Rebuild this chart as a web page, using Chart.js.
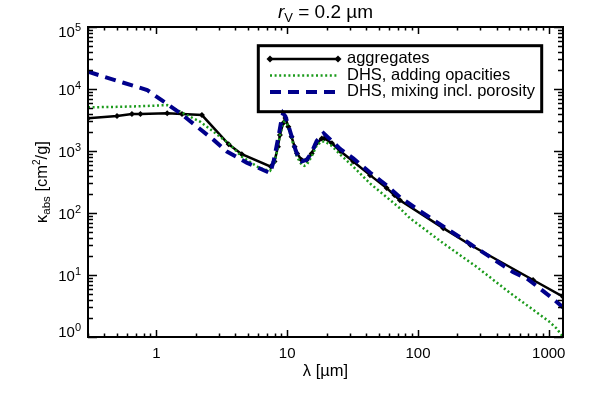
<!DOCTYPE html>
<html><head><meta charset="utf-8">
<script src="https://cdn.jsdelivr.net/npm/chart.js@4/dist/chart.umd.min.js"></script>
<style>html,body{margin:0;padding:0;background:#fff}#wrap{width:591px;height:393px}</style>
</head><body><div id="wrap"><canvas id="c" width="591" height="393"></canvas></div>
<script>
// ---- data ----
const seriesLabels = ['aggregates', 'DHS, adding opacities', 'DHS, mixing incl. porosity'];

const aggLambda = [0.3, 0.5, 0.65, 0.755, 1.21, 1.57, 2.23, 3.57, 4.5, 7.5, 8.0, 8.5, 8.8, 9.3, 9.7, 10.2, 10.8, 11.4, 11.9, 12.9, 14.1, 15.4, 16.8, 18.4, 19.3, 22, 25.4, 32, 43, 57.6, 66, 72.8, 156, 252, 759, 1285];
const aggKappa  = [3370, 3670, 3950, 3950, 4060, 3950, 3800, 1280, 890, 560, 680, 1170, 1820, 2800, 3400, 2460, 1700, 1170, 915, 716, 716, 915, 1330, 1590, 1600, 1330, 1000, 675, 408, 252, 195, 160, 57, 30.5, 8.3, 4.47];

const addLambda = [0.3, 0.5, 0.8, 1.21, 1.52, 2.17, 3.57, 4.5, 6.2, 7.4, 8.0, 8.5, 8.8, 9.3, 9.7, 10.2, 10.8, 11.4, 11.9, 12.9, 13.5, 14.1, 15.4, 16.8, 18.4, 19.5, 22, 25.4, 32, 43, 57.6, 72.8, 87, 156, 280, 502, 1000, 1145, 1285];
const addKappa  = [5070, 5150, 5300, 5500, 4300, 2950, 1330, 810, 525, 480, 650, 1150, 1800, 2750, 3300, 2400, 1600, 1050, 800, 600, 575, 600, 820, 1230, 1430, 1420, 1200, 880, 560, 300, 180, 119, 82, 32.5, 13.6, 5.2, 1.8, 1.38, 1.0];

const mixLambda = [0.3, 0.56, 0.85, 1.14, 1.52, 2.05, 2.74, 3.46, 4.9, 7.4, 7.9, 8.3, 8.7, 9.0, 9.3, 9.7, 10.2, 10.8, 11.4, 12.0, 12.9, 14.1, 15.4, 16.8, 18.4, 19.0, 22, 25.4, 32, 43, 57.6, 72.8, 103, 208, 532, 696, 1070, 1285];
const mixKappa  = [19000, 12600, 9640, 6240, 4070, 2460, 1510, 980, 650, 440, 700, 1200, 2000, 3000, 4050, 3600, 2600, 1750, 1150, 850, 680, 720, 950, 1450, 1800, 1930, 1450, 1080, 760, 450, 280, 180, 108, 41, 11.2, 8.5, 4.2, 3.0];

const xTickValues = [1, 10, 100, 1000];
const xTickLabels = ['1', '10', '100', '1000'];
const yTickValues = [1, 10, 100, 1000, 10000, 100000];
const yTickExponents = ['0', '1', '2', '3', '4', '5'];

// ---- styling ----
const FONT = '"Liberation Sans", Arial, Helvetica, sans-serif';
const cBlack = '#000000', cGreen = '#1a9a1a', cBlue = '#00008c';

function pts(xs, ys) { return xs.map((x, i) => ({x: x, y: ys[i]})); }

function drawParts(ctx, parts, x, y, align) {
  let w = 0;
  parts.forEach(p => { ctx.font = p.font; p.w = ctx.measureText(p.t).width; w += p.w; });
  let cx = align === 'center' ? x - w / 2 : (align === 'right' ? x - w : x);
  parts.forEach(p => { ctx.font = p.font; ctx.fillText(p.t, cx, y + (p.dy || 0)); cx += p.w; });
}

const idlAxes = {
  id: 'idlAxes',
  afterDraw(chart) {
    const ctx = chart.ctx, a = chart.chartArea, xs = chart.scales.x, ys = chart.scales.y;
    ctx.save();
    ctx.strokeStyle = '#000'; ctx.fillStyle = '#000';
    ctx.lineWidth = 1.5;
    ctx.beginPath();
    for (let d = -1; d <= 3; d++) {
      for (let m = 1; m <= 9; m++) {
        const v = m * Math.pow(10, d);
        if (v < xs.min || v > xs.max) continue;
        const px = Math.round(xs.getPixelForValue(v)) + 0.5;
        const len = m === 1 ? 7 : 3.5;
        ctx.moveTo(px, a.bottom); ctx.lineTo(px, a.bottom - len);
        ctx.moveTo(px, a.top); ctx.lineTo(px, a.top + len);
      }
    }
    for (let d = 0; d <= 5; d++) {
      for (let m = 1; m <= 9; m++) {
        const v = m * Math.pow(10, d);
        if (v < ys.min || v > ys.max) continue;
        const py = Math.round(ys.getPixelForValue(v)) + 0.5;
        const len = m === 1 ? 9 : 5;
        ctx.moveTo(a.left, py); ctx.lineTo(a.left + len, py);
        ctx.moveTo(a.right, py); ctx.lineTo(a.right - len, py);
      }
    }
    ctx.stroke();
    ctx.lineWidth = 2;
    ctx.strokeRect(a.left, a.top, a.right - a.left, a.bottom - a.top);

    ctx.textAlign = 'center'; ctx.textBaseline = 'alphabetic';
    ctx.font = '15px ' + FONT;
    xTickValues.forEach((v, i) => ctx.fillText(xTickLabels[i], xs.getPixelForValue(v), 358));
    ctx.textAlign = 'left';
    yTickValues.forEach((v, i) => {
      const py = ys.getPixelForValue(v);
      let base = py + 6;
      if (base > a.bottom) base = a.bottom;
      if (base < a.top + 10) base = a.top + 10;
      drawParts(ctx, [{t: '10', font: '15px ' + FONT}, {t: yTickExponents[i], font: '11px ' + FONT, dy: -6}], 81, base, 'right');
    });
    drawParts(ctx, [{t: 'λ [µm]', font: '16.5px ' + FONT}], (a.left + a.right) / 2, 376, 'center');
    ctx.save();
    ctx.translate(47, 182);
    ctx.rotate(-Math.PI / 2);
    drawParts(ctx, [
      {t: 'κ', font: '16.5px ' + FONT},
      {t: 'abs', font: '11.5px ' + FONT, dy: 3},
      {t: ' [cm', font: '16.5px ' + FONT},
      {t: '2', font: '10px ' + FONT, dy: -7},
      {t: '/g]', font: '16.5px ' + FONT}
    ], 0, 0, 'center');
    ctx.restore();
    drawParts(ctx, [
      {t: 'r', font: 'italic 19px ' + FONT},
      {t: 'V', font: '13px ' + FONT, dy: 4},
      {t: ' = 0.2 µm', font: '19px ' + FONT}
    ], (a.left + a.right) / 2, 18, 'center');

    const L = {x0: 258.3, y0: 45.7, x1: 541.7, y1: 111.7, s0: 270, s1: 338, tx: 347, rows: [58.5, 75, 91.5]};
    ctx.lineWidth = 3;
    ctx.strokeRect(L.x0, L.y0, L.x1 - L.x0, L.y1 - L.y0);
    const styles = [
      {c: cBlack, w: 2.5, dash: [], marker: true},
      {c: cGreen, w: 2.5, dash: [2, 2.6], marker: false},
      {c: cBlue, w: 4, dash: [11, 7], marker: false}
    ];
    styles.forEach((s, i) => {
      const yy = L.rows[i];
      ctx.strokeStyle = s.c; ctx.lineWidth = s.w; ctx.setLineDash(s.dash); ctx.lineCap = 'butt';
      ctx.beginPath(); ctx.moveTo(L.s0, yy + 0.5); ctx.lineTo(L.s1, yy + 0.5); ctx.stroke();
      ctx.setLineDash([]);
      if (s.marker) {
        ctx.fillStyle = s.c;
        [L.s0, L.s1].forEach(mx => {
          ctx.beginPath(); ctx.moveTo(mx, yy + 0.5 - 3.5); ctx.lineTo(mx + 3.5, yy + 0.5); ctx.lineTo(mx, yy + 4); ctx.lineTo(mx - 3.5, yy + 0.5); ctx.closePath(); ctx.fill();
        });
      }
      ctx.fillStyle = '#000';
      ctx.textAlign = 'left'; ctx.textBaseline = 'middle';
      ctx.font = '16.5px ' + FONT;
      ctx.fillText(seriesLabels[i], L.tx, yy);
    });
    ctx.restore();
  }
};

new Chart(document.getElementById('c'), {
  type: 'line',
  data: {
    datasets: [
      {label: seriesLabels[0], data: pts(aggLambda, aggKappa), borderColor: cBlack, backgroundColor: cBlack, borderWidth: 2.5,
       pointStyle: 'rectRot', pointRadius: 3, pointBorderWidth: 0, pointBackgroundColor: cBlack, order: 3},
      {label: seriesLabels[1], data: pts(addLambda, addKappa), borderColor: cGreen, borderWidth: 2.5, borderDash: [2, 2.6],
       pointRadius: 0, order: 2},
      {label: seriesLabels[2], data: pts(mixLambda, mixKappa), borderColor: cBlue, borderWidth: 4, borderDash: [11, 7],
       pointRadius: 0, order: 1}
    ]
  },
  options: {
    responsive: false, animation: false, devicePixelRatio: 1,
    layout: {padding: {left: 88, right: 28, top: 27, bottom: 56}},
    plugins: {legend: {display: false}, title: {display: false}, tooltip: {enabled: false}},
    elements: {line: {tension: 0, fill: false}},
    scales: {
      x: {type: 'logarithmic', min: 0.3, max: 1285, ticks: {display: false}, grid: {display: false}, border: {display: false},
          afterFit(s) { s.height = 0; s.paddingLeft = 0; s.paddingRight = 0; }},
      y: {type: 'logarithmic', min: 1, max: 100000, ticks: {display: false}, grid: {display: false}, border: {display: false},
          afterFit(s) { s.width = 0; s.paddingTop = 0; s.paddingBottom = 0; }}
    }
  },
  plugins: [idlAxes]
});
</script>
</body></html>
